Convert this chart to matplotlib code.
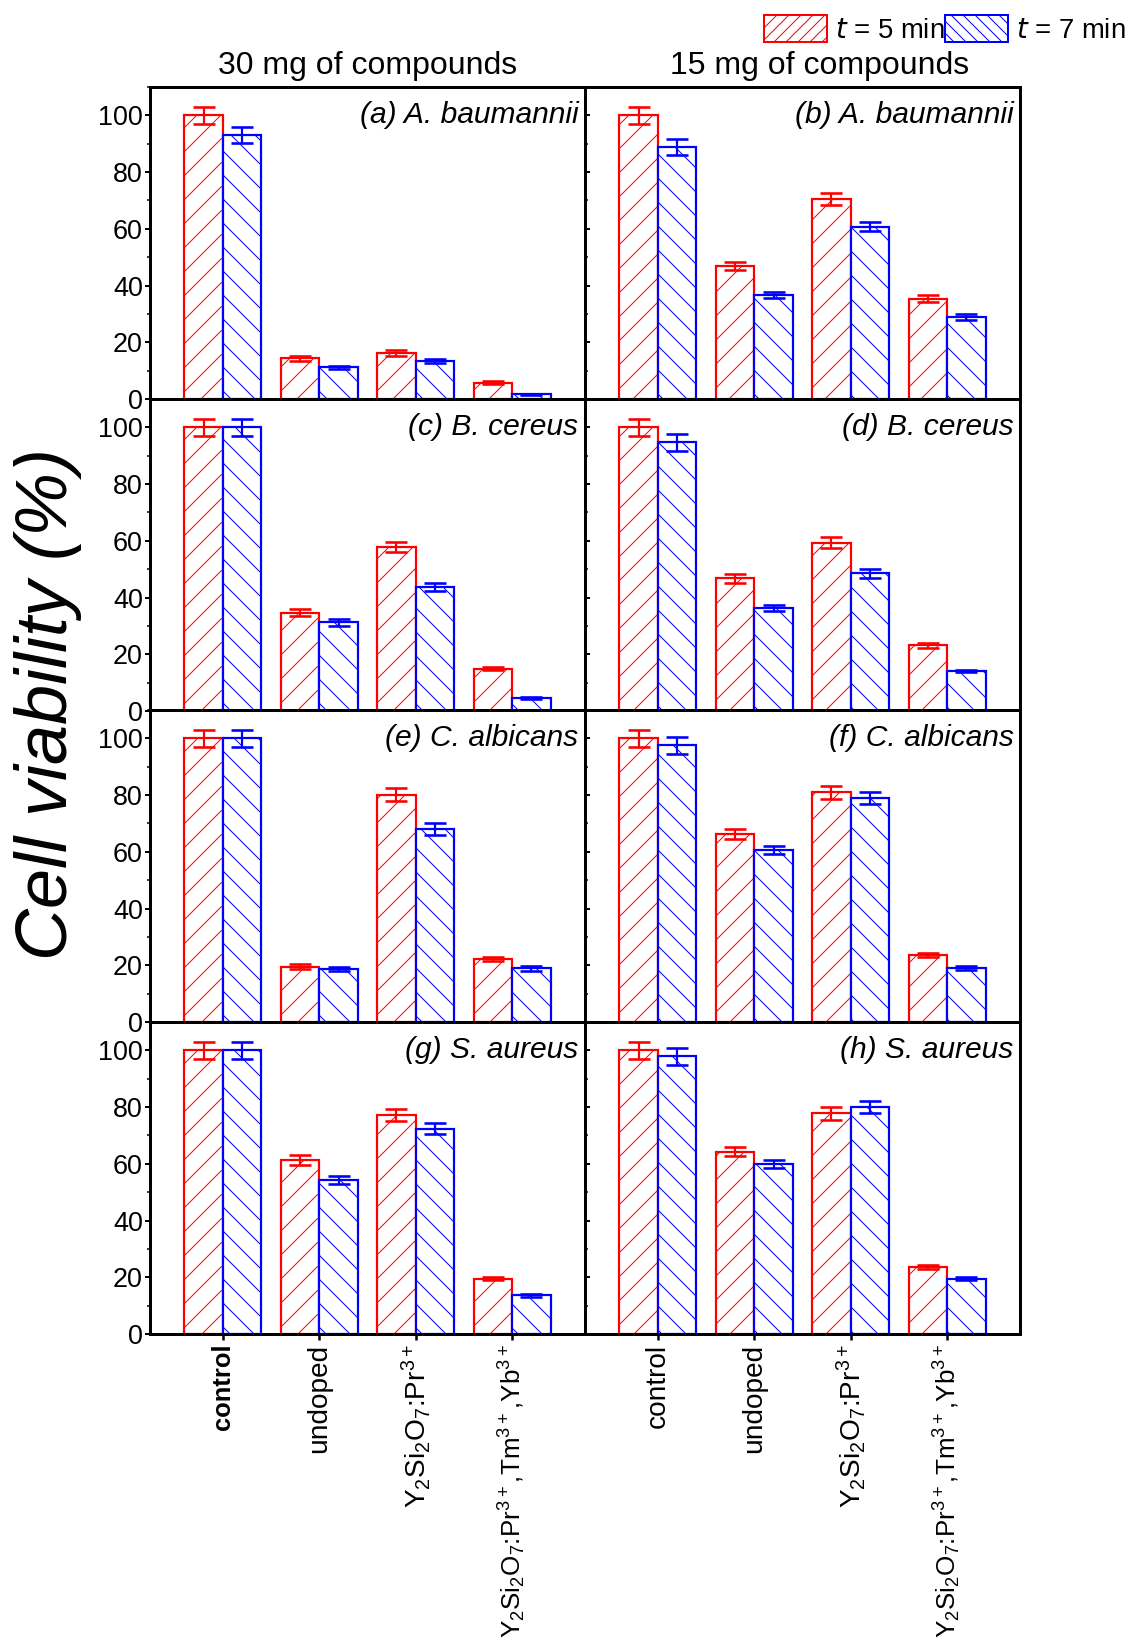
import numpy as np
import matplotlib
matplotlib.use("Agg")
import matplotlib.pyplot as plt
from matplotlib.patches import Patch
from matplotlib.ticker import MultipleLocator

plt.rcParams['font.family'] = ['Liberation Sans', 'DejaVu Sans']
plt.rcParams['mathtext.default'] = 'regular'
plt.rcParams['hatch.linewidth'] = 1.0

# groups on the x axis
groups = ['control', 'undoped',
          'Y$_2$Si$_2$O$_7$:Pr$^{3+}$',
          'Y$_2$Si$_2$O$_7$:Pr$^{3+}$,Tm$^{3+}$,Yb$^{3+}$']

panel_titles = ['(a) A. baumannii', '(b) A. baumannii',
                '(c) B. cereus', '(d) B. cereus',
                '(e) C. albicans', '(f) C. albicans',
                '(g) S. aureus', '(h) S. aureus']

# cell viability (%) after t = 5 min
t5 = [[100, 14.3, 16.2, 5.8],
      [100, 46.9, 70.5, 35.4],
      [100, 34.6, 57.9, 14.9],
      [100, 46.8, 59.4, 23.1],
      [100, 19.5, 80.2, 22.2],
      [100, 66.3, 81.0, 23.6],
      [100, 61.4, 77.3, 19.5],
      [100, 64.3, 77.8, 23.5]]
t5_err = [[3, 0.8, 0.9, 0.4],
          [3, 1.5, 2.0, 1.1],
          [3, 1.2, 1.8, 0.6],
          [3, 1.5, 1.8, 0.8],
          [3, 0.8, 2.3, 0.8],
          [3, 1.7, 2.3, 0.8],
          [3, 1.7, 2.2, 0.6],
          [3, 1.6, 2.2, 0.7]]

# cell viability (%) after t = 7 min
t7 = [[93.0, 11.2, 13.4, 1.6],
      [89.0, 36.8, 60.8, 28.9],
      [100, 31.3, 43.8, 4.7],
      [94.7, 36.3, 48.5, 14.1],
      [100, 18.7, 68.0, 18.9],
      [97.6, 60.7, 78.9, 19.0],
      [100, 54.3, 72.4, 13.6],
      [98.0, 59.9, 80.1, 19.5]]
t7_err = [[2.9, 0.5, 0.7, 0.3],
          [2.8, 1.1, 1.7, 1.0],
          [3, 1.2, 1.5, 0.3],
          [3, 1.2, 1.5, 0.5],
          [3, 0.8, 2.0, 0.8],
          [3, 1.5, 2.2, 0.6],
          [3, 1.5, 2.0, 0.5],
          [3, 1.4, 2.2, 0.6]]

W, H = 1129, 1642
fig = plt.figure(figsize=(W / 72, H / 72), dpi=72)

x = np.arange(1, len(groups) + 1)
bw = 0.4
lefts = [150, 585]
tops = [87, 399, 710, 1022]
pw, ph = 435, 312

for i in range(8):
    row, col = divmod(i, 2)
    ax = fig.add_axes([lefts[col] / W, 1 - (tops[row] + ph) / H, pw / W, ph / H])
    ax.bar(x - bw / 2, t5[i], bw, facecolor='white', edgecolor='#ff0000',
           hatch='/', linewidth=2.2, zorder=2)
    ax.bar(x + bw / 2, t7[i], bw, facecolor='white', edgecolor='#0000ff',
           hatch='\\', linewidth=2.2, zorder=2)
    ax.errorbar(x - bw / 2, t5[i], yerr=t5_err[i], fmt='none', ecolor='#ff0000',
                elinewidth=2.2, capsize=11, capthick=2.6, zorder=3)
    ax.errorbar(x + bw / 2, t7[i], yerr=t7_err[i], fmt='none', ecolor='#0000ff',
                elinewidth=2.2, capsize=11, capthick=2.6, zorder=3)
    ax.set_xlim(0.245, 4.755)
    ax.set_ylim(0, 110)
    ax.set_yticks([0, 20, 40, 60, 80, 100])
    ax.yaxis.set_minor_locator(MultipleLocator(10))
    for s in ax.spines.values():
        s.set_linewidth(3)
    ax.text(0.985, 0.91, panel_titles[i], transform=ax.transAxes,
            ha='right', va='center', fontsize=30, style='italic')
    ax.set_xticks(x)
    ax.tick_params(axis='x', direction='out', length=6, width=2.5)
    if col == 0:
        ax.tick_params(axis='y', which='major', direction='out', length=5,
                       width=2, labelsize=27, pad=2)
        ax.tick_params(axis='y', which='minor', direction='out', length=3, width=1.5)
    else:
        ax.tick_params(axis='y', which='major', direction='in', length=5,
                       width=2, labelleft=False)
        ax.tick_params(axis='y', which='minor', direction='in', length=3, width=1.5)
    if row == 3:
        ax.set_xticklabels(groups, rotation=90, fontsize=28, va='top', ha='center')
        ax.get_xticklabels()[3].set_fontsize(26)
        if col == 0:
            ax.get_xticklabels()[0].set_fontweight('bold')
            ax.get_xticklabels()[0].set_fontsize(25.5)
    else:
        ax.set_xticklabels([])

fig.text(368 / W, 1 - 66 / H, '30 mg of compounds', ha='center', va='center', fontsize=32)
fig.text(820 / W, 1 - 66 / H, '15 mg of compounds', ha='center', va='center', fontsize=32)
fig.text(48 / W, 1 - 704 / H, 'Cell viability (%)', rotation=90, ha='center',
         va='center', fontsize=72, style='italic')

handles = [Patch(facecolor='white', edgecolor='#ff0000', hatch='//', linewidth=2),
           Patch(facecolor='white', edgecolor='#0000ff', hatch='\\\\', linewidth=2)]
fig.legend(handles, [r'$\mathit{t}$ = 5 min', r'$\mathit{t}$ = 7 min'],
           loc='upper right', bbox_to_anchor=(1126 / W, 1 - 15 / H), ncol=2,
           frameon=False, fontsize=27.5, handlelength=2.3, handleheight=1.15,
           handletextpad=0.3, columnspacing=0.0, borderpad=0, borderaxespad=0)

fig.savefig('out.png', dpi=72)
